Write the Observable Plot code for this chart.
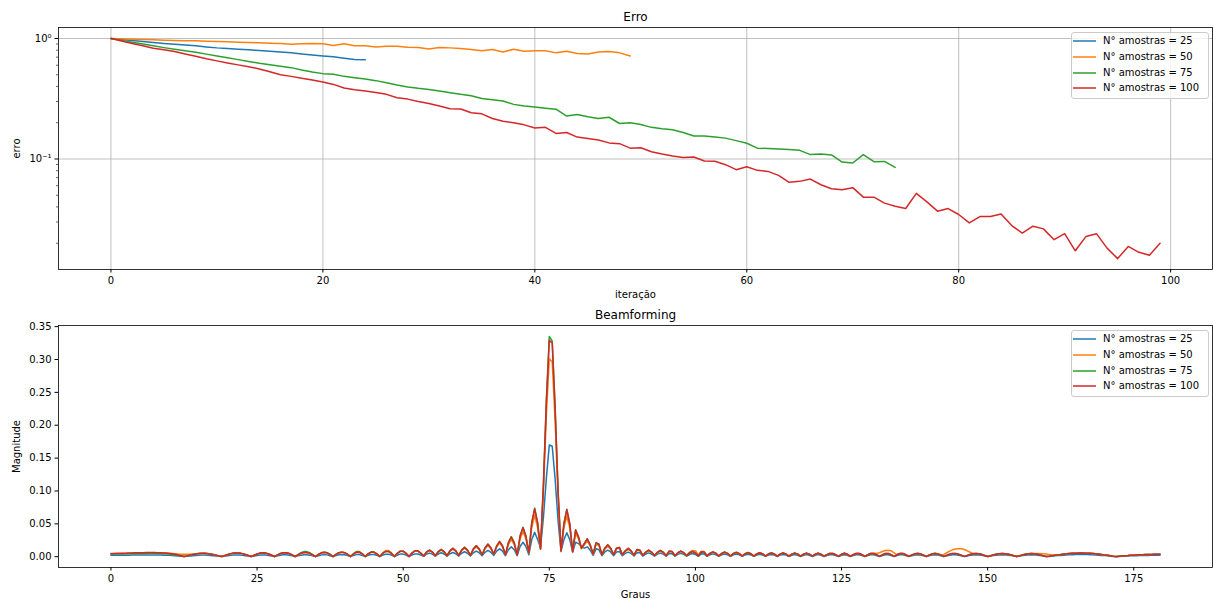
<!DOCTYPE html>
<html><head><meta charset="utf-8">
<script src="https://cdn.jsdelivr.net/npm/d3@7"></script>
<script src="https://cdn.jsdelivr.net/npm/@observablehq/plot@0.6"></script>
<style>
html,body{margin:0;padding:0;background:#fff;}
#fig{position:relative;width:1213px;height:599px;overflow:hidden;font-family:"DejaVu Sans",sans-serif;background:#fff;}
#fig > svg{position:absolute;left:0;}
.legend{position:absolute;left:1071px;width:138px;height:67px;box-sizing:border-box;border:1px solid #cccccc;border-radius:3px;background:rgba(255,255,255,0.8);font-size:10px;color:#000;}
.legend .row{position:absolute;left:0;width:136px;height:14px;line-height:14px;white-space:nowrap;}
.legend svg{position:absolute;left:1px;top:0;}
.legend .lab{position:absolute;left:31px;top:0;}
</style></head><body><div id="fig"></div>
<script>
// ---------- labels / categories ----------
const series = ["N° amostras = 25", "N° amostras = 50", "N° amostras = 75", "N° amostras = 100"];
const colors = ["#1f77b4", "#ff7f0e", "#2ca02c", "#d62728"];
const iterTicks = [0, 20, 40, 60, 80, 100];
const erroTicks = [0.1, 1];
const erroTickLabels = ["10⁻¹", "10⁰"];
const erroMinorTicks = [0.02, 0.03, 0.04, 0.05, 0.06, 0.07, 0.08, 0.09, 0.2, 0.3, 0.4, 0.5, 0.6, 0.7, 0.8, 0.9];
const grausTicks = [0, 25, 50, 75, 100, 125, 150, 175];
const magTicks = [0, 0.05, 0.1, 0.15, 0.2, 0.25, 0.3, 0.35];

// ---------- Erro (per iteration) ----------
const erro25 = [1.0, 0.98, 0.963, 0.944, 0.926, 0.911, 0.897, 0.882, 0.869, 0.852, 0.836, 0.825, 0.815, 0.805, 0.794, 0.784, 0.774, 0.76, 0.745, 0.731, 0.717, 0.704, 0.686, 0.668, 0.666];
const erro50 = [1.0, 0.993, 0.987, 0.981, 0.975, 0.969, 0.963, 0.96, 0.956, 0.95, 0.944, 0.938, 0.932, 0.926, 0.92, 0.914, 0.909, 0.897, 0.903, 0.909, 0.903, 0.874, 0.903, 0.869, 0.869, 0.852, 0.863, 0.863, 0.847, 0.841, 0.82, 0.841, 0.836, 0.825, 0.81, 0.79, 0.81, 0.774, 0.815, 0.784, 0.79, 0.79, 0.76, 0.784, 0.75, 0.745, 0.774, 0.78, 0.76, 0.717];
const erro75 = [1.0, 0.965, 0.932, 0.9, 0.869, 0.84, 0.815, 0.79, 0.769, 0.742, 0.717, 0.692, 0.668, 0.645, 0.623, 0.605, 0.588, 0.573, 0.548, 0.527, 0.511, 0.504, 0.485, 0.473, 0.461, 0.447, 0.43, 0.411, 0.396, 0.386, 0.378, 0.367, 0.355, 0.344, 0.335, 0.318, 0.31, 0.303, 0.284, 0.275, 0.27, 0.264, 0.259, 0.227, 0.234, 0.224, 0.217, 0.222, 0.197, 0.2, 0.193, 0.183, 0.178, 0.175, 0.166, 0.155, 0.155, 0.152, 0.149, 0.142, 0.135, 0.123, 0.122, 0.121, 0.12, 0.118, 0.1087, 0.11, 0.108, 0.0944, 0.0926, 0.1086, 0.095, 0.0955, 0.0853];
const erro100 = [1.0, 0.953, 0.908, 0.87, 0.83, 0.805, 0.78, 0.745, 0.713, 0.68, 0.652, 0.627, 0.604, 0.583, 0.559, 0.53, 0.501, 0.485, 0.467, 0.452, 0.435, 0.416, 0.388, 0.375, 0.366, 0.356, 0.344, 0.322, 0.314, 0.3, 0.289, 0.275, 0.261, 0.26, 0.242, 0.237, 0.217, 0.206, 0.2, 0.192, 0.181, 0.183, 0.163, 0.166, 0.152, 0.148, 0.144, 0.136, 0.134, 0.123, 0.124, 0.115, 0.11, 0.106, 0.103, 0.104, 0.0962, 0.0957, 0.0897, 0.0815, 0.0863, 0.0805, 0.0789, 0.0731, 0.064, 0.0652, 0.0681, 0.0611, 0.0566, 0.0555, 0.0578, 0.0482, 0.0482, 0.043, 0.0406, 0.0388, 0.0518, 0.0441, 0.0369, 0.0388, 0.0346, 0.0295, 0.0333, 0.0333, 0.035, 0.028, 0.0243, 0.0277, 0.0263, 0.0214, 0.024, 0.0173, 0.0227, 0.024, 0.0182, 0.0149, 0.0188, 0.0168, 0.0159, 0.02];

// ---------- Beamforming (magnitude every 0.5 degree, 0..179.5; one row = 5 degrees) ----------
const graus = d3.range(0, 180, 0.5);
const mag25 = [
.0022,.0022,.0022,.0023,.0023,.0024,.0024,.0025,.0025,.0026,
.0026,.0027,.0027,.0027,.0027,.0027,.0026,.0025,.0024,.0023,
.0021,.0018,.0014,.0010,.0006,.0002,.0006,.0011,.0016,.0020,
.0023,.0025,.0025,.0023,.0020,.0016,.0011,.0006,.0002,.0009,
.0016,.0022,.0026,.0028,.0026,.0022,.0016,.0009,.0002,.0011,
.0020,.0026,.0028,.0026,.0020,.0011,.0002,.0013,.0023,.0029,
.0029,.0023,.0013,.0002,.0013,.0024,.0030,.0030,.0024,.0013,
.0002,.0016,.0028,.0032,.0028,.0016,.0002,.0017,.0029,.0033,
.0029,.0017,.0002,.0020,.0032,.0032,.0020,.0002,.0021,.0034,
.0034,.0021,.0002,.0024,.0038,.0038,.0024,.0002,.0025,.0040,
.0040,.0025,.0002,.0027,.0043,.0043,.0027,.0005,.0039,.0055,
.0039,.0008,.0042,.0060,.0042,.0008,.0046,.0065,.0046,.0010,
.0053,.0075,.0053,.0010,.0060,.0085,.0060,.0015,.0067,.0095,
.0067,.0020,.0085,.0120,.0085,.0015,.0106,.0150,.0106,.0015,
.0156,.0220,.0156,.0030,.0262,.0370,.0262,.0140,.0600,.1200,
.1700,.1680,.1180,.0550,.0080,.0260,.0365,.0260,.0066,.0220,
.0200,.0150,.0130,.0150,.0100,.0020,.0120,.0105,.0015,.0072,
.0100,.0072,.0015,.0072,.0080,.0015,.0050,.0070,.0050,.0010,
.0065,.0060,.0010,.0041,.0058,.0041,.0010,.0039,.0055,.0039,
.0008,.0050,.0047,.0008,.0036,.0051,.0036,.0008,.0034,.0048,
.0034,.0006,.0044,.0042,.0006,.0031,.0043,.0031,.0005,.0030,
.0042,.0030,.0005,.0028,.0040,.0028,.0005,.0027,.0038,.0027,
.0005,.0025,.0036,.0025,.0005,.0025,.0035,.0025,.0004,.0024,
.0034,.0024,.0004,.0023,.0033,.0023,.0004,.0023,.0032,.0023,
.0004,.0022,.0032,.0022,.0004,.0019,.0030,.0030,.0019,.0003,
.0022,.0031,.0022,.0003,.0018,.0029,.0029,.0018,.0003,.0018,
.0029,.0029,.0018,.0003,.0018,.0029,.0029,.0018,.0003,.0018,
.0029,.0029,.0018,.0003,.0015,.0026,.0030,.0026,.0015,.0003,
.0015,.0026,.0030,.0026,.0015,.0003,.0013,.0023,.0029,.0029,
.0023,.0013,.0003,.0011,.0021,.0027,.0029,.0027,.0021,.0011,
.0002,.0009,.0017,.0023,.0028,.0029,.0028,.0023,.0017,.0009,
.0002,.0009,.0017,.0023,.0028,.0029,.0028,.0023,.0017,.0009,
.0002,.0004,.0008,.0013,.0017,.0020,.0023,.0026,.0029,.0031,
.0032,.0033,.0033,.0033,.0032,.0031,.0029,.0026,.0023,.0020,
.0017,.0013,.0008,.0004,.0001,.0004,.0006,.0008,.0010,.0013,
.0014,.0016,.0017,.0019,.0020,.0020,.0021,.0022,.0022,.0022];
const mag50 = [
.0045,.0045,.0046,.0047,.0048,.0049,.0051,.0052,.0054,.0055,
.0056,.0057,.0058,.0059,.0060,.0060,.0060,.0059,.0058,.0056,
.0053,.0050,.0046,.0042,.0039,.0037,.0037,.0039,.0042,.0045,
.0048,.0050,.0050,.0047,.0041,.0032,.0022,.0011,.0003,.0017,
.0032,.0045,.0052,.0055,.0052,.0045,.0032,.0017,.0003,.0022,
.0040,.0052,.0057,.0052,.0040,.0022,.0003,.0026,.0047,.0058,
.0058,.0047,.0026,.0003,.0027,.0049,.0060,.0060,.0049,.0027,
.0003,.0033,.0057,.0066,.0057,.0033,.0003,.0034,.0059,.0068,
.0059,.0034,.0003,.0040,.0066,.0066,.0040,.0003,.0043,.0069,
.0069,.0043,.0003,.0058,.0095,.0095,.0058,.0003,.0050,.0081,
.0081,.0050,.0003,.0053,.0086,.0086,.0053,.0010,.0065,.0092,
.0065,.0015,.0071,.0100,.0071,.0015,.0081,.0115,.0081,.0020,
.0092,.0130,.0092,.0020,.0106,.0150,.0106,.0030,.0120,.0170,
.0120,.0040,.0148,.0210,.0148,.0030,.0184,.0260,.0184,.0030,
.0269,.0380,.0269,.0050,.0445,.0630,.0445,.0110,.1000,.2150,
.3010,.2960,.2050,.0920,.0080,.0440,.0620,.0440,.0070,.0360,
.0270,.0120,.0180,.0240,.0160,.0035,.0190,.0170,.0030,.0115,
.0160,.0115,.0030,.0120,.0130,.0030,.0080,.0110,.0080,.0020,
.0100,.0090,.0020,.0065,.0090,.0065,.0020,.0060,.0085,.0060,
.0015,.0080,.0076,.0015,.0057,.0080,.0060,.0020,.0070,.0095,
.0090,.0030,.0085,.0080,.0012,.0050,.0070,.0050,.0010,.0048,
.0068,.0048,.0010,.0046,.0065,.0046,.0010,.0044,.0062,.0044,
.0010,.0042,.0060,.0042,.0010,.0041,.0058,.0041,.0008,.0040,
.0056,.0040,.0008,.0039,.0055,.0039,.0008,.0038,.0054,.0038,
.0008,.0037,.0053,.0037,.0008,.0031,.0049,.0049,.0031,.0006,
.0037,.0052,.0037,.0006,.0030,.0048,.0048,.0030,.0006,.0030,
.0048,.0052,.0050,.0060,.0080,.0095,.0100,.0090,.0060,.0030,
.0048,.0048,.0030,.0006,.0025,.0043,.0050,.0043,.0025,.0005,
.0025,.0043,.0050,.0043,.0030,.0035,.0060,.0085,.0105,.0118,
.0122,.0120,.0110,.0090,.0068,.0050,.0049,.0045,.0035,.0019,
.0004,.0015,.0028,.0039,.0046,.0048,.0046,.0039,.0028,.0015,
.0004,.0015,.0028,.0039,.0046,.0048,.0050,.0050,.0048,.0045,
.0040,.0035,.0030,.0028,.0030,.0034,.0039,.0044,.0048,.0051,
.0053,.0054,.0055,.0054,.0053,.0051,.0048,.0044,.0039,.0033,
.0028,.0021,.0014,.0007,.0002,.0006,.0010,.0014,.0017,.0021,
.0024,.0027,.0029,.0031,.0033,.0034,.0035,.0036,.0036,.0036];
const mag75 = [
.0040,.0040,.0041,.0042,.0043,.0044,.0045,.0046,.0047,.0048,
.0049,.0050,.0050,.0051,.0051,.0051,.0050,.0049,.0047,.0044,
.0040,.0035,.0029,.0021,.0012,.0003,.0012,.0024,.0034,.0043,
.0049,.0052,.0052,.0049,.0043,.0034,.0024,.0012,.0003,.0018,
.0034,.0047,.0055,.0058,.0055,.0047,.0034,.0018,.0003,.0023,
.0042,.0055,.0060,.0055,.0042,.0023,.0003,.0027,.0049,.0061,
.0061,.0049,.0027,.0003,.0033,.0062,.0078,.0078,.0062,.0033,
.0003,.0034,.0059,.0068,.0059,.0034,.0003,.0035,.0061,.0070,
.0061,.0035,.0003,.0048,.0078,.0078,.0048,.0003,.0044,.0071,
.0071,.0044,.0003,.0050,.0081,.0081,.0050,.0003,.0052,.0084,
.0084,.0052,.0003,.0056,.0090,.0090,.0056,.0010,.0072,.0102,
.0072,.0015,.0079,.0112,.0079,.0015,.0091,.0129,.0091,.0020,
.0101,.0144,.0101,.0020,.0120,.0170,.0120,.0030,.0136,.0193,
.0136,.0040,.0166,.0234,.0166,.0030,.0215,.0305,.0215,.0030,
.0318,.0450,.0318,.0060,.0523,.0740,.0523,.0120,.1120,.2400,
.3350,.3280,.2280,.1010,.0090,.0507,.0722,.0507,.0080,.0410,
.0303,.0130,.0202,.0273,.0182,.0040,.0212,.0192,.0030,.0131,
.0182,.0131,.0030,.0131,.0142,.0030,.0091,.0128,.0091,.0020,
.0111,.0101,.0020,.0071,.0102,.0071,.0020,.0068,.0096,.0068,
.0015,.0086,.0081,.0015,.0061,.0086,.0061,.0015,.0058,.0081,
.0058,.0012,.0074,.0071,.0012,.0052,.0073,.0052,.0010,.0051,
.0071,.0051,.0010,.0048,.0067,.0048,.0010,.0046,.0064,.0046,
.0010,.0043,.0061,.0043,.0010,.0042,.0059,.0042,.0008,.0041,
.0057,.0041,.0008,.0040,.0056,.0040,.0008,.0039,.0055,.0039,
.0008,.0038,.0054,.0038,.0008,.0032,.0050,.0050,.0032,.0006,
.0038,.0053,.0038,.0006,.0031,.0049,.0049,.0031,.0006,.0031,
.0049,.0049,.0031,.0006,.0031,.0049,.0049,.0031,.0006,.0031,
.0049,.0049,.0031,.0006,.0026,.0044,.0051,.0044,.0026,.0005,
.0026,.0044,.0051,.0044,.0026,.0005,.0023,.0040,.0050,.0050,
.0040,.0023,.0005,.0020,.0036,.0046,.0050,.0046,.0036,.0020,
.0004,.0016,.0029,.0040,.0047,.0049,.0047,.0040,.0029,.0016,
.0004,.0016,.0029,.0040,.0047,.0049,.0047,.0040,.0029,.0016,
.0004,.0007,.0014,.0021,.0028,.0034,.0040,.0045,.0049,.0052,
.0054,.0055,.0056,.0055,.0054,.0052,.0049,.0045,.0040,.0034,
.0028,.0021,.0014,.0007,.0002,.0006,.0010,.0014,.0017,.0021,
.0024,.0027,.0029,.0031,.0033,.0034,.0035,.0036,.0036,.0036];
const mag100 = [
.0050,.0050,.0051,.0052,.0053,.0054,.0056,.0057,.0059,.0060,
.0061,.0062,.0063,.0063,.0063,.0063,.0062,.0060,.0058,.0055,
.0050,.0044,.0036,.0026,.0014,.0003,.0012,.0024,.0034,.0043,
.0049,.0052,.0052,.0049,.0043,.0034,.0024,.0012,.0003,.0018,
.0034,.0047,.0055,.0058,.0055,.0047,.0034,.0018,.0003,.0023,
.0042,.0055,.0060,.0055,.0042,.0023,.0003,.0027,.0049,.0061,
.0061,.0049,.0027,.0003,.0028,.0051,.0063,.0063,.0051,.0028,
.0003,.0034,.0059,.0068,.0059,.0034,.0003,.0035,.0061,.0070,
.0061,.0035,.0003,.0042,.0068,.0068,.0042,.0003,.0044,.0071,
.0071,.0044,.0003,.0050,.0081,.0081,.0050,.0003,.0052,.0084,
.0084,.0052,.0003,.0056,.0090,.0090,.0056,.0010,.0071,.0100,
.0071,.0015,.0078,.0110,.0078,.0015,.0090,.0127,.0090,.0020,
.0100,.0142,.0100,.0020,.0118,.0167,.0118,.0030,.0134,.0190,
.0134,.0040,.0163,.0230,.0163,.0030,.0212,.0300,.0212,.0030,
.0311,.0440,.0311,.0060,.0513,.0726,.0513,.0120,.1100,.2350,
.3290,.3250,.2250,.1000,.0090,.0500,.0715,.0500,.0080,.0406,
.0300,.0130,.0200,.0270,.0180,.0040,.0210,.0190,.0030,.0130,
.0180,.0130,.0030,.0130,.0140,.0030,.0090,.0127,.0090,.0020,
.0110,.0100,.0020,.0070,.0101,.0070,.0020,.0067,.0095,.0067,
.0015,.0085,.0080,.0015,.0060,.0085,.0060,.0015,.0057,.0080,
.0057,.0012,.0073,.0070,.0012,.0051,.0072,.0051,.0010,.0050,
.0070,.0050,.0010,.0047,.0066,.0047,.0010,.0045,.0063,.0045,
.0010,.0042,.0060,.0042,.0010,.0041,.0058,.0041,.0008,.0040,
.0056,.0040,.0008,.0039,.0055,.0039,.0008,.0038,.0054,.0038,
.0008,.0037,.0053,.0037,.0008,.0031,.0049,.0049,.0031,.0006,
.0037,.0052,.0037,.0006,.0030,.0048,.0048,.0030,.0006,.0030,
.0048,.0048,.0030,.0006,.0030,.0048,.0048,.0030,.0006,.0030,
.0048,.0048,.0030,.0006,.0025,.0043,.0050,.0043,.0025,.0005,
.0025,.0043,.0050,.0043,.0025,.0005,.0022,.0039,.0049,.0049,
.0039,.0022,.0005,.0019,.0035,.0045,.0049,.0045,.0035,.0019,
.0004,.0015,.0028,.0039,.0046,.0048,.0046,.0039,.0028,.0015,
.0004,.0015,.0028,.0039,.0046,.0048,.0046,.0039,.0028,.0015,
.0004,.0007,.0014,.0021,.0028,.0033,.0039,.0044,.0048,.0051,
.0053,.0054,.0055,.0054,.0053,.0051,.0048,.0044,.0039,.0033,
.0028,.0021,.0014,.0007,.0002,.0006,.0010,.0014,.0017,.0021,
.0024,.0027,.0029,.0031,.0033,.0034,.0035,.0036,.0036,.0036];

// ---------- tidy tables ----------
const erroRows = [erro25, erro50, erro75, erro100].flatMap((arr, k) => arr.map((v, i) => ({x: i, y: v, s: series[k]})));
const beamRows = [mag25, mag50, mag75, mag100].flatMap((arr, k) => arr.map((v, i) => ({x: graus[i], y: v, s: series[k]})));

const baseStyle = {fontFamily: "'DejaVu Sans', sans-serif", fontSize: "10px", color: "#000", background: "transparent"};
const gridStyle = {stroke: "#b0b0b0", strokeOpacity: 1, strokeWidth: 0.8};

const p1 = Plot.plot({
  width: 1213, height: 300,
  marginLeft: 58, marginRight: 1, marginTop: 27, marginBottom: 31,
  style: baseStyle,
  x: {domain: [-4.95, 103.95]},
  y: {type: "log", domain: [0.0121, 1.234]},
  color: {domain: series, range: colors},
  marks: [
    Plot.gridX(iterTicks, gridStyle),
    Plot.gridY(erroTicks, gridStyle),
    Plot.line(erroRows, {x: "x", y: "y", z: "s", stroke: "s", strokeWidth: 1.5}),
    Plot.frame({stroke: "#000", strokeWidth: 0.8}),
    Plot.axisX(iterTicks, {tickSize: 3.5, tickPadding: 3.5, label: "iteração", labelAnchor: "center", labelOffset: 28.5, labelArrow: "none"}),
    Plot.axisY(erroTicks, {tickSize: 3.5, tickPadding: 3.5, tickFormat: d => erroTickLabels[erroTicks.indexOf(d)], label: "erro", labelAnchor: "center", labelOffset: 46, labelArrow: "none"}),
    Plot.axisY(erroMinorTicks, {tickSize: 2, strokeWidth: 0.6, tickFormat: () => "", label: null}),
    Plot.text(["Erro"], {frameAnchor: "top", dy: -6.5, lineAnchor: "bottom", fontSize: 12})
  ]
});

const p2 = Plot.plot({
  width: 1213, height: 299,
  marginLeft: 58, marginRight: 1, marginTop: 25, marginBottom: 32,
  style: baseStyle,
  x: {domain: [-8.975, 188.475]},
  y: {domain: [-0.0164, 0.3517]},
  color: {domain: series, range: colors},
  marks: [
    Plot.line(beamRows, {x: "x", y: "y", z: "s", stroke: "s", strokeWidth: 1.5}),
    Plot.frame({stroke: "#000", strokeWidth: 0.8}),
    Plot.axisX(grausTicks, {tickSize: 3.5, tickPadding: 3.5, label: "Graus", labelAnchor: "center", labelOffset: 30, labelArrow: "none"}),
    Plot.axisY(magTicks, {tickSize: 3.5, tickPadding: 3.5, tickFormat: d3.format(".2f"), label: "Magnitude", labelAnchor: "center", labelOffset: 46, labelArrow: "none"}),
    Plot.text(["Beamforming"], {frameAnchor: "top", dy: -6.5, lineAnchor: "bottom", fontSize: 12})
  ]
});

const fig = document.getElementById("fig");
p1.style.top = "0px";
p2.style.top = "300px";
fig.appendChild(p1);
fig.appendChild(p2);

function legend(top) {
  const box = document.createElement("div");
  box.className = "legend";
  box.style.top = top + "px";
  series.forEach((name, k) => {
    const row = document.createElement("div");
    row.className = "row";
    row.style.top = (1 + k * 15.8) + "px";
    row.innerHTML = `<svg width="26" height="14"><line x1="0" x2="23" y1="7" y2="7" stroke="${colors[k]}" stroke-width="1.5"/></svg>`;
    const lab = document.createElement("span");
    lab.className = "lab";
    lab.textContent = name;
    row.appendChild(lab);
    box.appendChild(row);
  });
  fig.appendChild(box);
}
legend(32);
legend(330);
</script></body></html>
